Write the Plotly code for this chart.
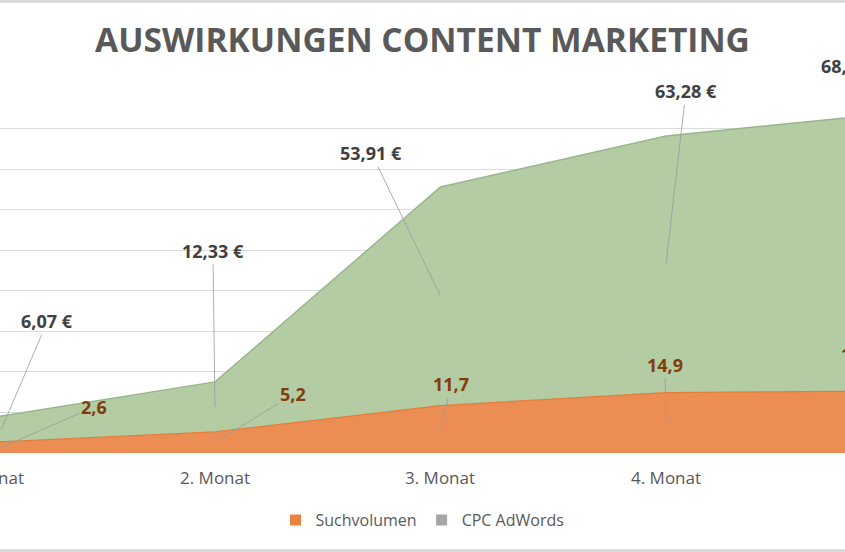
import plotly.graph_objects as go

months = ["1. Monat", "2. Monat", "3. Monat", "4. Monat", "5. Monat"]
suchvolumen = [2.6, 5.2, 11.7, 14.9, 15.3]
cpc_adwords = [6.07, 12.33, 53.91, 63.28, 68.45]

# pixel offsets of the data labels (label centre minus anchor)
such_off = [(105, -41), (78, -48), (11, -45), (-1, -58), (-32, -68)]
cpc_off = [(58, -109), (-2, -156), (-69, -143), (20, -173), (-39, -186)]

idx = list(range(len(months)))
x_range = [0.0466, 3.794]  # chart is cut on both sides


def xpaper(i):
    return (i - x_range[0]) / (x_range[1] - x_range[0])


def label(i, y, text, color, off):
    a = dict(xref="paper", yref="y", x=xpaper(i), y=y, text=text,
             font=dict(family=font, size=18, color=color, weight="bold"))
    if i < len(months) - 1:
        a.update(showarrow=True, arrowhead=0, arrowwidth=0.8,
                 arrowcolor="#9a9a9a", ax=off[0], ay=off[1], standoff=0)
    else:
        # last month lies outside the visible area, its leader line is not seen
        a.update(showarrow=False, xanchor="center", yanchor="middle",
                 xshift=off[0], yshift=-off[1])
    return a


grey_txt = "#595959"
font = "Open Sans"

fig = go.Figure()
fig.add_trace(go.Scatter(
    x=idx, y=suchvolumen, name="Suchvolumen", stackgroup="one",
    fillcolor="#EC8E54", line=dict(color="#E27C3A", width=1.2),
    showlegend=False, hoverinfo="skip",
))
fig.add_trace(go.Scatter(
    x=idx, y=cpc_adwords, name="CPC AdWords", stackgroup="one",
    fillcolor="#B3CCA4", line=dict(color="#9AB58B", width=1.5),
    showlegend=False, hoverinfo="skip",
))
# legend entries (Excel shows CPC with a grey square)
fig.add_trace(go.Scatter(x=[None], y=[None], mode="markers", name="Suchvolumen",
                         marker=dict(symbol="square", size=11, color="#E8823F")))
fig.add_trace(go.Scatter(x=[None], y=[None], mode="markers", name="CPC AdWords",
                         marker=dict(symbol="square", size=11, color="#A5A5A5")))

annotations = []
for i in idx:
    s, c = suchvolumen[i], cpc_adwords[i]
    annotations.append(label(i, s / 2, f"{s:.1f}".replace(".", ","),
                             "#843C0C", such_off[i]))
    annotations.append(label(i, s + c / 2, f"{c:.2f}".replace(".", ",") + " €",
                             "#404040", cpc_off[i]))
    # category labels
    annotations.append(dict(
        xref="paper", yref="paper", x=xpaper(i), y=0, xanchor="center",
        yanchor="top", yshift=-11, text=months[i], showarrow=False,
        font=dict(family=font, size=17, color=grey_txt),
    ))

fig.update_layout(
    width=845, height=552,
    margin=dict(l=0, r=0, t=88, b=99),
    paper_bgcolor="white", plot_bgcolor="white",
    title=dict(text="AUSWIRKUNGEN CONTENT MARKETING", x=0.5, xanchor="center",
               y=0.927, yanchor="middle",
               font=dict(family=font, size=33.5, color=grey_txt, weight="bold")),
    xaxis=dict(range=x_range, showgrid=False, showticklabels=False,
               zeroline=False, showline=False, ticks=""),
    yaxis=dict(range=[0, 90], dtick=10, showgrid=True, gridcolor="#DDDDDD",
               gridwidth=1, showticklabels=False, zeroline=False, ticks=""),
    legend=dict(orientation="h", x=0.5, xanchor="center", y=-0.184,
                yanchor="middle", traceorder="normal",
                font=dict(family=font, size=16, color=grey_txt),
                itemwidth=30, tracegroupgap=0),
    annotations=annotations,
    shapes=[
        dict(type="line", xref="paper", yref="paper", x0=-0.1, x1=1.1,
             y0=1.238, y1=1.238, line=dict(color="#D9D9D9", width=3)),
        dict(type="line", xref="paper", yref="paper", x0=-0.1, x1=1.1,
             y0=-0.268, y1=-0.268, line=dict(color="#D9D9D9", width=3)),
    ],
)

# the page body has a default 8px margin; drop it so the chart sits at 0,0
fig.write_html("out.html", config={"displayModeBar": False},
               post_script="document.body.style.margin='0px';")
